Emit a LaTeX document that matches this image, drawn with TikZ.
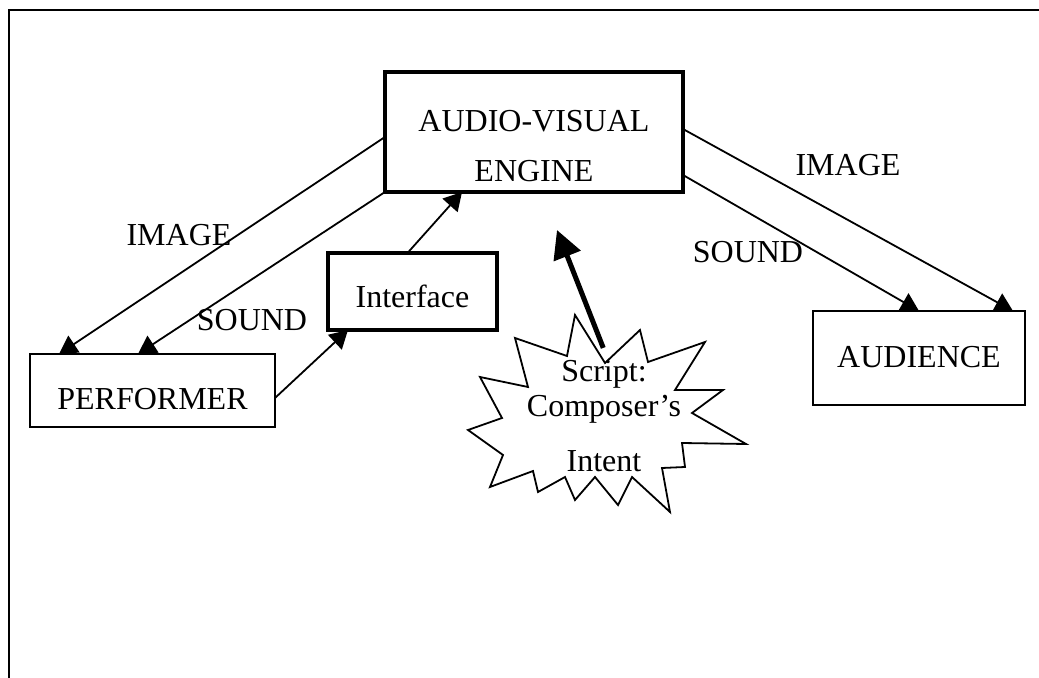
\documentclass[tikz,border=0pt]{standalone}
\usepackage{fontspec}
\setmainfont{Liberation Serif}
\usetikzlibrary{arrows.meta,positioning}
\tikzset{
    >={Triangle[length=9pt,width=10pt]},
    every picture/.style={font=\fontsize{16}{19.2}\selectfont},
    box/.style={draw, line width=1pt, inner sep=0pt, outer sep=0pt},
    boldbox/.style={box, line width=2pt},
    tag/.style={inner sep=0pt},
    arrow/.style={->, line width=0.9pt},
    boldarrow/.style={-{Triangle[length=14pt,width=14pt]}, line width=2.5pt},
    burst/.style={line width=0.9pt, line join=miter},
    frameline/.style={line width=1pt}
}
\begin{document}
\begin{tikzpicture}[x=0.5pt, y=-0.5pt]
\useasboundingbox (0,0) rectangle (1039,678);
\draw[frameline] (1039,10) -- (9,10) -- (9,678);
% boxes
\node[boldbox, align=center, minimum width=149pt, minimum height=60pt] (av) at (534,132) {\rule{0pt}{25pt}AUDIO-VISUAL\\[5.8pt]ENGINE};
\node[boldbox, minimum width=84.5pt, minimum height=38.5pt, text height=16.5pt, text depth=0pt] (iface) at (412.5,291.5) {Interface};
\node[box, minimum width=122.5pt, minimum height=36.5pt, text height=19.5pt, text depth=0pt] (perf) at (152.5,390.5) {PERFORMER};
\node[box, minimum width=106pt, minimum height=47pt, text height=10pt, text depth=0pt] (aud) at (919,358) {AUDIENCE};
% starburst
\draw[burst] (515,338) -- (567,356) -- (575,315) -- (605,363) -- (640,330) -- (648,362) -- (705,342) -- (675,390) -- (723,390) -- (692,413) -- (746,444) -- (682,443) -- (685,467) -- (662,468) -- (670,512) -- (632,477) -- (618,505) -- (595,477) -- (575,500) -- (565,477) -- (538,492) -- (533,471) -- (490,487) -- (503,455) -- (468,430) -- (502,418) -- (480,377) -- (528,387) -- cycle;
\node[tag, align=center, anchor=north, font=\fontsize{16}{17.5}\selectfont] (script) at (604,360) {Script:\\Composer’s\\[10pt]Intent};
\coordinate (scripttip) at (557,230);
% labels
\node[tag] (imgL) at (179,235) {IMAGE};
\node[tag] (sndL) at (252,320) {SOUND};
\node[tag] (imgR) at (848,165) {IMAGE};
\node[tag] (sndR) at (748,252) {SOUND};
% connectors
\draw[arrow] ([yshift=-2.5pt]av.west) -- ([xshift=14.5pt]perf.north west);
\draw[arrow] (av.south west) -- ([xshift=54pt]perf.north west);
\draw[arrow] ([yshift=-3.75pt]perf.east) -- ([xshift=10pt]iface.south west);
\draw[arrow] ([xshift=-2.5pt]iface.north) -- ([xshift=38.5pt]av.south west);
\draw[arrow] ([yshift=1.5pt]av.east) -- ([xshift=-6pt]aud.north east);
\draw[arrow] ([yshift=-21.5pt]av.east) -- (aud.north);
\draw[boldarrow, shorten <=6.5pt] ([xshift=2pt]script.north) -- (scripttip);
\end{tikzpicture}
\end{document}
